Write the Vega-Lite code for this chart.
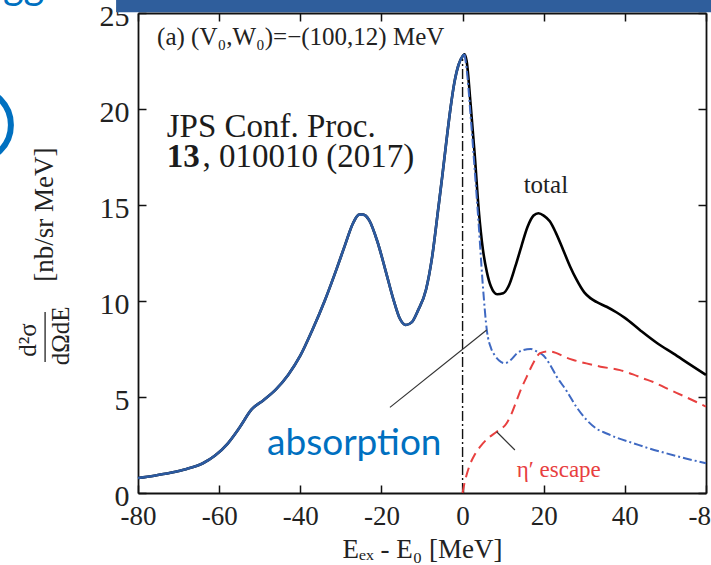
{
  "$schema": "https://vega.github.io/schema/vega-lite/v6.json",
  "width": 568,
  "height": 480,
  "autosize": {"type": "none"},
  "padding": {"left": 138, "top": 13, "right": 5, "bottom": 72},
  "background": "white",
  "config": {"view": {"stroke": null}, "font": "Liberation Serif"},
  "datasets": {
    "curves": [
      {"s": "total", "E": -80, "v": 0.78}, {"s": "total", "E": -76, "v": 0.9}, {"s": "total", "E": -72, "v": 1.05},
      {"s": "total", "E": -68, "v": 1.25}, {"s": "total", "E": -64, "v": 1.55}, {"s": "total", "E": -61, "v": 1.95},
      {"s": "total", "E": -58, "v": 2.55}, {"s": "total", "E": -55, "v": 3.4}, {"s": "total", "E": -52, "v": 4.35},
      {"s": "total", "E": -49, "v": 4.85}, {"s": "total", "E": -46, "v": 5.4}, {"s": "total", "E": -43, "v": 6.15},
      {"s": "total", "E": -40, "v": 7.15}, {"s": "total", "E": -37, "v": 8.5}, {"s": "total", "E": -34, "v": 10.0},
      {"s": "total", "E": -31, "v": 11.7}, {"s": "total", "E": -29, "v": 12.9}, {"s": "total", "E": -27, "v": 14.05},
      {"s": "total", "E": -25.5, "v": 14.5}, {"s": "total", "E": -24.5, "v": 14.5}, {"s": "total", "E": -23, "v": 14.2},
      {"s": "total", "E": -21, "v": 13.1}, {"s": "total", "E": -19, "v": 11.6}, {"s": "total", "E": -17, "v": 10.05},
      {"s": "total", "E": -15.5, "v": 9.1}, {"s": "total", "E": -14, "v": 8.75}, {"s": "total", "E": -12.5, "v": 8.9},
      {"s": "total", "E": -11, "v": 9.5}, {"s": "total", "E": -9, "v": 10.6}, {"s": "total", "E": -7.5, "v": 12.3},
      {"s": "total", "E": -6, "v": 14.8}, {"s": "total", "E": -5, "v": 16.5}, {"s": "total", "E": -4, "v": 18.3},
      {"s": "total", "E": -3, "v": 20.0}, {"s": "total", "E": -2, "v": 21.4}, {"s": "total", "E": -1, "v": 22.3},
      {"s": "total", "E": 0, "v": 22.75}, {"s": "total", "E": 0.5, "v": 22.85},
      {"s": "total", "E": 1, "v": 22.5}, {"s": "total", "E": 2, "v": 20.2}, {"s": "total", "E": 3, "v": 17.6},
      {"s": "total", "E": 4, "v": 14.7}, {"s": "total", "E": 5, "v": 12.7}, {"s": "total", "E": 6, "v": 11.5},
      {"s": "total", "E": 7, "v": 10.75}, {"s": "total", "E": 8.5, "v": 10.35}, {"s": "total", "E": 10, "v": 10.4},
      {"s": "total", "E": 11.5, "v": 10.85}, {"s": "total", "E": 13, "v": 11.8}, {"s": "total", "E": 14.5, "v": 12.85},
      {"s": "total", "E": 16, "v": 13.85}, {"s": "total", "E": 17.5, "v": 14.45}, {"s": "total", "E": 18.7, "v": 14.57},
      {"s": "total", "E": 20, "v": 14.45}, {"s": "total", "E": 21.5, "v": 14.15}, {"s": "total", "E": 23, "v": 13.55},
      {"s": "total", "E": 24.8, "v": 12.66}, {"s": "total", "E": 26.5, "v": 11.8}, {"s": "total", "E": 28, "v": 11.15},
      {"s": "total", "E": 30, "v": 10.45}, {"s": "total", "E": 31.5, "v": 10.15}, {"s": "total", "E": 33, "v": 9.95},
      {"s": "total", "E": 35.5, "v": 9.7}, {"s": "total", "E": 38, "v": 9.4}, {"s": "total", "E": 40, "v": 9.12},
      {"s": "total", "E": 43.7, "v": 8.49}, {"s": "total", "E": 48, "v": 7.8}, {"s": "total", "E": 52, "v": 7.26},
      {"s": "total", "E": 56, "v": 6.7}, {"s": "total", "E": 60, "v": 6.15},

      {"s": "absorption", "E": -80, "v": 0.78}, {"s": "absorption", "E": -76, "v": 0.9}, {"s": "absorption", "E": -72, "v": 1.05},
      {"s": "absorption", "E": -68, "v": 1.25}, {"s": "absorption", "E": -64, "v": 1.55}, {"s": "absorption", "E": -61, "v": 1.95},
      {"s": "absorption", "E": -58, "v": 2.55}, {"s": "absorption", "E": -55, "v": 3.4}, {"s": "absorption", "E": -52, "v": 4.35},
      {"s": "absorption", "E": -49, "v": 4.85}, {"s": "absorption", "E": -46, "v": 5.4}, {"s": "absorption", "E": -43, "v": 6.15},
      {"s": "absorption", "E": -40, "v": 7.15}, {"s": "absorption", "E": -37, "v": 8.5}, {"s": "absorption", "E": -34, "v": 10.0},
      {"s": "absorption", "E": -31, "v": 11.7}, {"s": "absorption", "E": -29, "v": 12.9}, {"s": "absorption", "E": -27, "v": 14.05},
      {"s": "absorption", "E": -25.5, "v": 14.5}, {"s": "absorption", "E": -24.5, "v": 14.5}, {"s": "absorption", "E": -23, "v": 14.2},
      {"s": "absorption", "E": -21, "v": 13.1}, {"s": "absorption", "E": -19, "v": 11.6}, {"s": "absorption", "E": -17, "v": 10.05},
      {"s": "absorption", "E": -15.5, "v": 9.1}, {"s": "absorption", "E": -14, "v": 8.75}, {"s": "absorption", "E": -12.5, "v": 8.9},
      {"s": "absorption", "E": -11, "v": 9.5}, {"s": "absorption", "E": -9, "v": 10.6}, {"s": "absorption", "E": -7.5, "v": 12.3},
      {"s": "absorption", "E": -6, "v": 14.8}, {"s": "absorption", "E": -5, "v": 16.5}, {"s": "absorption", "E": -4, "v": 18.3},
      {"s": "absorption", "E": -3, "v": 20.0}, {"s": "absorption", "E": -2, "v": 21.4}, {"s": "absorption", "E": -1, "v": 22.3},
      {"s": "absorption", "E": 0, "v": 22.75}, {"s": "absorption", "E": 0.5, "v": 22.85},
      {"s": "absorption", "E": 1, "v": 22.1}, {"s": "absorption", "E": 2, "v": 19.6}, {"s": "absorption", "E": 3, "v": 16.8},
      {"s": "absorption", "E": 4, "v": 13.9}, {"s": "absorption", "E": 5, "v": 10.8}, {"s": "absorption", "E": 6, "v": 8.45},
      {"s": "absorption", "E": 7, "v": 7.55}, {"s": "absorption", "E": 8, "v": 7.15}, {"s": "absorption", "E": 9, "v": 6.9},
      {"s": "absorption", "E": 10.3, "v": 6.76}, {"s": "absorption", "E": 12, "v": 6.95}, {"s": "absorption", "E": 13.3, "v": 7.25},
      {"s": "absorption", "E": 15, "v": 7.45}, {"s": "absorption", "E": 16.8, "v": 7.5}, {"s": "absorption", "E": 18.5, "v": 7.35},
      {"s": "absorption", "E": 20, "v": 7.15}, {"s": "absorption", "E": 21.5, "v": 6.7}, {"s": "absorption", "E": 23.2, "v": 6.06},
      {"s": "absorption", "E": 25.7, "v": 5.3}, {"s": "absorption", "E": 28, "v": 4.5}, {"s": "absorption", "E": 30.6, "v": 3.8},
      {"s": "absorption", "E": 33, "v": 3.35}, {"s": "absorption", "E": 35.5, "v": 3.1}, {"s": "absorption", "E": 38, "v": 2.88},
      {"s": "absorption", "E": 42, "v": 2.6}, {"s": "absorption", "E": 46, "v": 2.32}, {"s": "absorption", "E": 50, "v": 2.08},
      {"s": "absorption", "E": 55, "v": 1.8}, {"s": "absorption", "E": 60, "v": 1.55},

      {"s": "escape", "E": 0, "v": 0}, {"s": "escape", "E": 0.5, "v": 0.55}, {"s": "escape", "E": 1, "v": 0.95},
      {"s": "escape", "E": 1.85, "v": 1.5}, {"s": "escape", "E": 3, "v": 2.0}, {"s": "escape", "E": 4.3, "v": 2.4},
      {"s": "escape", "E": 6, "v": 2.8}, {"s": "escape", "E": 8.4, "v": 3.19}, {"s": "escape", "E": 10.9, "v": 3.65},
      {"s": "escape", "E": 12, "v": 4.1}, {"s": "escape", "E": 13.3, "v": 4.8}, {"s": "escape", "E": 14.5, "v": 5.45},
      {"s": "escape", "E": 15.8, "v": 6.05}, {"s": "escape", "E": 17.5, "v": 6.8}, {"s": "escape", "E": 19.1, "v": 7.28},
      {"s": "escape", "E": 21, "v": 7.38}, {"s": "escape", "E": 23, "v": 7.3}, {"s": "escape", "E": 25, "v": 7.1},
      {"s": "escape", "E": 27.3, "v": 6.93}, {"s": "escape", "E": 30.5, "v": 6.75}, {"s": "escape", "E": 34, "v": 6.58},
      {"s": "escape", "E": 38.8, "v": 6.4}, {"s": "escape", "E": 42, "v": 6.18}, {"s": "escape", "E": 44.5, "v": 5.97},
      {"s": "escape", "E": 47, "v": 5.78}, {"s": "escape", "E": 50.3, "v": 5.45}, {"s": "escape", "E": 55, "v": 5.0},
      {"s": "escape", "E": 60, "v": 4.5}
    ]
  },
  "layer": [
    {
      "description": "slide header bar running across the top",
      "data": {"values": [{"x1": -85.4, "x2": 62, "y1": 25.04, "y2": 26.5}]},
      "mark": {"type": "rect", "color": "#2F5E9C"},
      "encoding": {
        "x": {"field": "x1", "type": "quantitative", "scale": {"domain": [-80, 60], "nice": false, "zero": false}, "axis": null},
        "x2": {"field": "x2"},
        "y": {"field": "y1", "type": "quantitative", "scale": {"domain": [0, 25], "nice": false, "zero": false}, "axis": null},
        "y2": {"field": "y2"}
      }
    },
    {
      "description": "threshold marker at E = 0, also carries the top and right tick frames",
      "data": {"values": [{"E": 0, "lo": 0, "hi": 22.6}]},
      "mark": {"type": "rule", "color": "#111", "strokeWidth": 1.4, "strokeDash": [10, 3, 2, 3]},
      "encoding": {
        "x": {"field": "E", "type": "quantitative", "scale": {"domain": [-80, 60], "nice": false, "zero": false},
          "axis": {"orient": "top", "values": [-80, -60, -40, -20, 0, 20, 40, 60], "labels": false, "title": null, "grid": false,
            "tickSize": -8, "tickColor": "#111", "tickWidth": 1.5, "domainColor": "#111", "domainWidth": 1.8}},
        "y": {"field": "lo", "type": "quantitative", "scale": {"domain": [0, 25], "nice": false, "zero": false},
          "axis": {"orient": "right", "values": [0, 5, 10, 15, 20, 25], "labels": false, "title": null, "grid": false,
            "tickSize": -8, "tickColor": "#111", "tickWidth": 1.5, "domainColor": "#111", "domainWidth": 1.8}},
        "y2": {"field": "hi"}
      }
    },
    {
      "description": "total cross section",
      "data": {"name": "curves"},
      "transform": [{"filter": "datum.s == 'total'"}],
      "mark": {"type": "line", "color": "#000000", "strokeWidth": 2.6, "interpolate": "monotone"},
      "encoding": {
        "x": {"field": "E", "type": "quantitative", "scale": {"domain": [-80, 60], "nice": false, "zero": false},
          "axis": {"orient": "bottom", "values": [-80, -60, -40, -20, 0, 20, 40, 60],
            "labelExpr": "datum.value == 60 ? '-80' : (datum.value < 0 ? '-' + (-datum.value) : '' + datum.value)",
            "labelFont": "Liberation Serif", "labelFontSize": 27, "labelColor": "#222", "labelPadding": 18,
            "labelFlush": false, "labelOverlap": false, "grid": false,
            "tickSize": -8, "tickColor": "#111", "tickWidth": 1.5, "domainColor": "#111", "domainWidth": 1.8,
            "title": "Eₑₓ - E₀ [MeV]", "titleFont": "Liberation Serif", "titleFontSize": 27, "titleFontWeight": "normal",
            "titleColor": "#222", "titlePadding": 7}},
        "y": {"field": "v", "type": "quantitative", "scale": {"domain": [0, 25], "nice": false, "zero": false},
          "axis": {"orient": "left", "values": [0, 5, 10, 15, 20, 25], "labelFont": "Liberation Serif", "labelFontSize": 30,
            "labelColor": "#222", "labelPadding": 17, "labelOffset": 3, "labelFlush": false, "labelOverlap": false, "grid": false,
            "tickSize": -8, "tickColor": "#111", "tickWidth": 1.5, "domainColor": "#111", "domainWidth": 1.8, "title": null}}
      }
    },
    {
      "description": "absorption part below threshold, drawn over the total",
      "data": {"name": "curves"},
      "transform": [{"filter": "datum.s == 'absorption' && datum.E <= 0.5"}],
      "mark": {"type": "line", "color": "#2C5AA0", "strokeWidth": 2.6, "interpolate": "monotone"},
      "encoding": {
        "x": {"field": "E", "type": "quantitative", "scale": {"domain": [-80, 60], "nice": false, "zero": false}, "axis": null},
        "y": {"field": "v", "type": "quantitative", "scale": {"domain": [0, 25], "nice": false, "zero": false}, "axis": null}
      }
    },
    {
      "description": "absorption part above threshold",
      "data": {"name": "curves"},
      "transform": [{"filter": "datum.s == 'absorption' && datum.E >= 0.5"}],
      "mark": {"type": "line", "color": "#3F69C2", "strokeWidth": 2, "strokeDash": [9, 3, 2, 3], "interpolate": "monotone"},
      "encoding": {
        "x": {"field": "E", "type": "quantitative", "scale": {"domain": [-80, 60], "nice": false, "zero": false}, "axis": null},
        "y": {"field": "v", "type": "quantitative", "scale": {"domain": [0, 25], "nice": false, "zero": false}, "axis": null}
      }
    },
    {
      "description": "eta-prime escape part",
      "data": {"name": "curves"},
      "transform": [{"filter": "datum.s == 'escape'"}],
      "mark": {"type": "line", "color": "#E8403F", "strokeWidth": 2, "strokeDash": [10, 6], "interpolate": "monotone"},
      "encoding": {
        "x": {"field": "E", "type": "quantitative", "scale": {"domain": [-80, 60], "nice": false, "zero": false}, "axis": null},
        "y": {"field": "v", "type": "quantitative", "scale": {"domain": [0, 25], "nice": false, "zero": false}, "axis": null}
      }
    },
    {
      "description": "leader lines from the labels to their curves",
      "data": {"values": [
        {"E1": -17.9, "v1": 4.46, "E2": 5.95, "v2": 8.49},
        {"E1": 8.4, "v1": 3.19, "E2": 12.9, "v2": 2.24}
      ]},
      "mark": {"type": "rule", "color": "#333", "strokeWidth": 1.2},
      "encoding": {
        "x": {"field": "E1", "type": "quantitative", "scale": {"domain": [-80, 60], "nice": false, "zero": false}, "axis": null},
        "x2": {"field": "E2"},
        "y": {"field": "v1", "type": "quantitative", "scale": {"domain": [0, 25], "nice": false, "zero": false}, "axis": null},
        "y2": {"field": "v2"}
      }
    },
    {
      "description": "y-axis title fraction bar",
      "data": {"values": [{"E": -102.9, "lo": 6.82, "hi": 9.43}]},
      "mark": {"type": "rule", "color": "#222", "strokeWidth": 1.3},
      "encoding": {
        "x": {"field": "E", "type": "quantitative", "scale": {"domain": [-80, 60], "nice": false, "zero": false}, "axis": null},
        "y": {"field": "lo", "type": "quantitative", "scale": {"domain": [0, 25], "nice": false, "zero": false}, "axis": null},
        "y2": {"field": "hi"}
      }
    },
    {
      "description": "panel caption",
      "data": {"values": [{"E": -75.3, "v": 23.33, "t": "(a)  (V₀,W₀)=−(100,12)  MeV"}]},
      "mark": {"type": "text", "align": "left", "baseline": "alphabetic", "font": "Liberation Serif", "fontSize": 25, "color": "#222"},
      "encoding": {
        "x": {"field": "E", "type": "quantitative", "scale": {"domain": [-80, 60], "nice": false, "zero": false}, "axis": null},
        "y": {"field": "v", "type": "quantitative", "scale": {"domain": [0, 25], "nice": false, "zero": false}, "axis": null},
        "text": {"field": "t"}
      }
    },
    {
      "description": "reference note",
      "data": {"values": [
        {"E": -72.93, "v": 18.56, "t": "JPS Conf. Proc."},
        {"E": -64.1, "v": 17.0, "t": ", 010010 (2017)"}
      ]},
      "mark": {"type": "text", "align": "left", "baseline": "alphabetic", "font": "Liberation Serif", "fontSize": 33, "color": "#1c1c1c"},
      "encoding": {
        "x": {"field": "E", "type": "quantitative", "scale": {"domain": [-80, 60], "nice": false, "zero": false}, "axis": null},
        "y": {"field": "v", "type": "quantitative", "scale": {"domain": [0, 25], "nice": false, "zero": false}, "axis": null},
        "text": {"field": "t"}
      }
    },
    {
      "description": "volume number in bold",
      "data": {"values": [{"E": -72.93, "v": 17.0, "t": "13"}]},
      "mark": {"type": "text", "align": "left", "baseline": "alphabetic", "font": "Liberation Serif", "fontSize": 33, "fontWeight": "bold", "color": "#1c1c1c"},
      "encoding": {
        "x": {"field": "E", "type": "quantitative", "scale": {"domain": [-80, 60], "nice": false, "zero": false}, "axis": null},
        "y": {"field": "v", "type": "quantitative", "scale": {"domain": [0, 25], "nice": false, "zero": false}, "axis": null},
        "text": {"field": "t"}
      }
    },
    {
      "description": "curve label: total",
      "data": {"values": [{"E": 20.53, "v": 15.61, "t": "total"}]},
      "mark": {"type": "text", "align": "center", "baseline": "alphabetic", "font": "Liberation Serif", "fontSize": 25, "color": "#222"},
      "encoding": {
        "x": {"field": "E", "type": "quantitative", "scale": {"domain": [-80, 60], "nice": false, "zero": false}, "axis": null},
        "y": {"field": "v", "type": "quantitative", "scale": {"domain": [0, 25], "nice": false, "zero": false}, "axis": null},
        "text": {"field": "t"}
      }
    },
    {
      "description": "curve label: escape",
      "data": {"values": [{"E": 13.35, "v": 0.85, "t": "η′ escape"}]},
      "mark": {"type": "text", "align": "left", "baseline": "alphabetic", "font": "Liberation Serif", "fontSize": 23, "color": "#E8403F"},
      "encoding": {
        "x": {"field": "E", "type": "quantitative", "scale": {"domain": [-80, 60], "nice": false, "zero": false}, "axis": null},
        "y": {"field": "v", "type": "quantitative", "scale": {"domain": [0, 25], "nice": false, "zero": false}, "axis": null},
        "text": {"field": "t"}
      }
    },
    {
      "description": "curve label: absorption",
      "data": {"values": [{"E": -48.2, "v": 1.98, "t": "absorption"}]},
      "mark": {"type": "text", "align": "left", "baseline": "alphabetic", "font": "Lato", "fontSize": 37, "color": "#0070C0"},
      "encoding": {
        "x": {"field": "E", "type": "quantitative", "scale": {"domain": [-80, 60], "nice": false, "zero": false}, "axis": null},
        "y": {"field": "v", "type": "quantitative", "scale": {"domain": [0, 25], "nice": false, "zero": false}, "axis": null},
        "text": {"field": "t"}
      }
    },
    {
      "description": "y-axis title: units",
      "data": {"values": [{"E": -102.8, "v": 14.5, "t": "[nb/sr MeV]"}]},
      "mark": {"type": "text", "align": "center", "baseline": "middle", "angle": 270, "font": "Liberation Serif", "fontSize": 27, "color": "#222"},
      "encoding": {
        "x": {"field": "E", "type": "quantitative", "scale": {"domain": [-80, 60], "nice": false, "zero": false}, "axis": null},
        "y": {"field": "v", "type": "quantitative", "scale": {"domain": [0, 25], "nice": false, "zero": false}, "axis": null},
        "text": {"field": "t"}
      }
    },
    {
      "description": "y-axis title: fraction numerator and denominator",
      "data": {"values": [
        {"E": -107.2, "v": 7.97, "t": "d²σ"},
        {"E": -99.0, "v": 8.18, "t": "dΩdE"}
      ]},
      "mark": {"type": "text", "align": "center", "baseline": "middle", "angle": 270, "font": "Liberation Serif", "fontSize": 25, "color": "#222"},
      "encoding": {
        "x": {"field": "E", "type": "quantitative", "scale": {"domain": [-80, 60], "nice": false, "zero": false}, "axis": null},
        "y": {"field": "v", "type": "quantitative", "scale": {"domain": [0, 25], "nice": false, "zero": false}, "axis": null},
        "text": {"field": "t"}
      }
    },
    {
      "description": "slide bullet ring at the left edge",
      "data": {"values": [{"E": -120.2, "v": 19.17}]},
      "mark": {"type": "point", "shape": "circle", "filled": false, "size": 5184, "color": "#0070C0", "strokeWidth": 6, "opacity": 1},
      "encoding": {
        "x": {"field": "E", "type": "quantitative", "scale": {"domain": [-80, 60], "nice": false, "zero": false}, "axis": null},
        "y": {"field": "v", "type": "quantitative", "scale": {"domain": [0, 25], "nice": false, "zero": false}, "axis": null}
      }
    },
    {
      "description": "slide heading text, mostly above the frame",
      "data": {"values": [{"E": -113.3, "v": 25.73, "t": "gg"}]},
      "mark": {"type": "text", "align": "left", "baseline": "alphabetic", "font": "Lato", "fontSize": 40, "color": "#0070C0"},
      "encoding": {
        "x": {"field": "E", "type": "quantitative", "scale": {"domain": [-80, 60], "nice": false, "zero": false}, "axis": null},
        "y": {"field": "v", "type": "quantitative", "scale": {"domain": [0, 25], "nice": false, "zero": false}, "axis": null},
        "text": {"field": "t"}
      }
    }
  ],
  "resolve": {"axis": {"x": "independent", "y": "independent"}}
}
